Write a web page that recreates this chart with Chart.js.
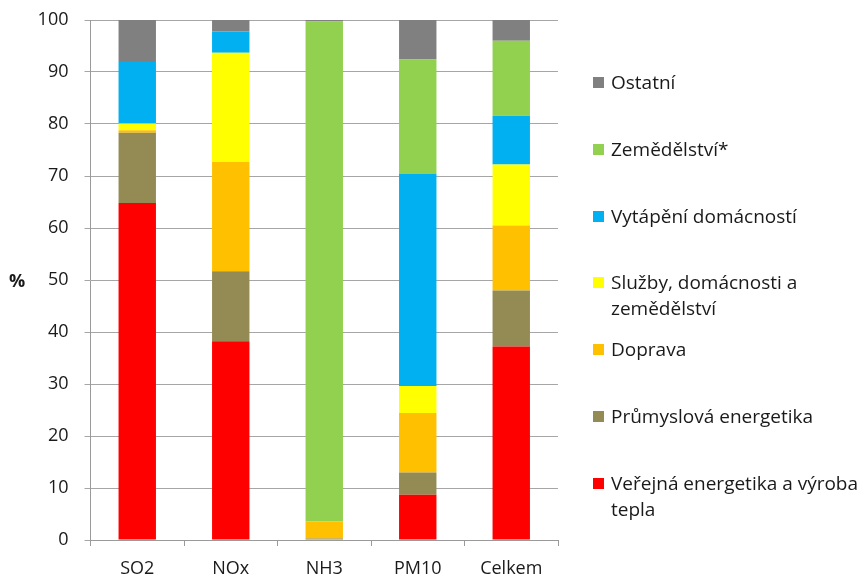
<!DOCTYPE html>
<html>
<head>
<meta charset="utf-8">
<script src="https://cdn.jsdelivr.net/npm/chart.js@4/dist/chart.umd.min.js"></script>
<style>
  html, body { margin: 0; padding: 0; background: #fff; }
  #wrap { position: relative; width: 864px; height: 578px; font-family: "Open Sans", sans-serif; color: #1a1a1a; }
  #chart { position: absolute; left: 0; top: 0; }
  #yTitle { position: absolute; left: 9px; top: 268px; font-size: 18px; line-height: 24px; font-weight: bold; }
  .item { position: absolute; left: 593px; font-size: 19px; line-height: 26px; }
  .item .box { position: absolute; left: 0; top: 8px; width: 11px; height: 11px; }
  .item .txt { margin-left: 18px; display: block; white-space: pre-line; }
</style>
</head>
<body>
<div id="wrap">
  <canvas id="chart" width="864" height="578"></canvas>
  <div id="yTitle">%</div>
  <div id="legend"></div>
</div>
<script>
const categories = ["SO2", "NOx", "NH3", "PM10", "Celkem"];
const yTicks = [0, 10, 20, 30, 40, 50, 60, 70, 80, 90, 100];

const verejna     = [64.8, 38.2, 0.0,  8.7, 37.2];
const prumyslova  = [13.5, 13.5, 0.3,  4.3, 10.8];
const doprava     = [ 0.5, 21.0, 3.3, 11.4, 12.5];
const sluzby      = [ 1.3, 21.0, 0.0,  5.2, 11.7];
const vytapeni    = [11.8,  4.1, 0.0, 40.8,  9.4];
const zemedelstvi = [ 0.0,  0.0, 96.1, 22.0, 14.4];
const ostatni     = [ 8.1,  2.2, 0.3,  7.6,  4.0];

const seriesLabels = [
  "Veřejná energetika a výroba\ntepla",
  "Průmyslová energetika",
  "Doprava",
  "Služby, domácnosti a\nzemědělství",
  "Vytápění domácností",
  "Zemědělství*",
  "Ostatní"
];
const seriesColors = ["#ff0000", "#948a54", "#ffc000", "#ffff00", "#00b0f0", "#92d050", "#808080"];
const seriesValues = [verejna, prumyslova, doprava, sluzby, vytapeni, zemedelstvi, ostatni];

const FONT = "'Open Sans', sans-serif";

function buildLegend() {
  const el = document.getElementById("legend");
  // legend goes top-down in reverse stacking order
  const order = seriesLabels.map((_, i) => i).reverse();
  el.innerHTML = order.map((idx, row) =>
    `<div class="item" style="top:${(69 + row * 66.8).toFixed(1)}px">` +
    `<span class="box" style="background:${seriesColors[idx]}"></span>` +
    `<span class="txt">${seriesLabels[idx]}</span></div>`
  ).join("");
}

function drawChart() {
  const ctx = document.getElementById("chart").getContext("2d");
  new Chart(ctx, {
    type: "bar",
    data: {
      labels: categories,
      datasets: seriesValues.map((vals, i) => ({
        label: seriesLabels[i],
        data: vals,
        backgroundColor: seriesColors[i],
        borderWidth: 0,
        categoryPercentage: 1.0,
        barPercentage: 0.4
      }))
    },
    options: {
      responsive: false,
      animation: false,
      layout: { padding: { top: 20, right: 306, bottom: 0, left: 0 } },
      plugins: { legend: { display: false }, tooltip: { enabled: false } },
      scales: {
        x: {
          stacked: true,
          afterFit: s => { s.height = 38; s.paddingLeft = 0; s.paddingRight = 0; },
          grid: { drawOnChartArea: false, drawTicks: true, tickLength: 6, color: "#9a9a9a", offset: true },
          border: { color: "#9a9a9a" },
          ticks: { color: "#1a1a1a", font: { family: FONT, size: 18 }, padding: 12 }
        },
        y: {
          stacked: true,
          min: 0,
          max: 100,
          afterFit: s => { s.width = 90.5; s.paddingTop = 0; s.paddingBottom = 0; },
          afterBuildTicks: s => { s.ticks = yTicks.map(v => ({ value: v })); },
          grid: { color: "#a6a6a6", tickLength: 6 },
          border: { color: "#9a9a9a" },
          ticks: { color: "#1a1a1a", font: { family: FONT, size: 18 }, padding: 16 }
        }
      }
    }
  });
}

document.addEventListener("DOMContentLoaded", () => {
  buildLegend();
  drawChart();
});
</script>
</body>
</html>
